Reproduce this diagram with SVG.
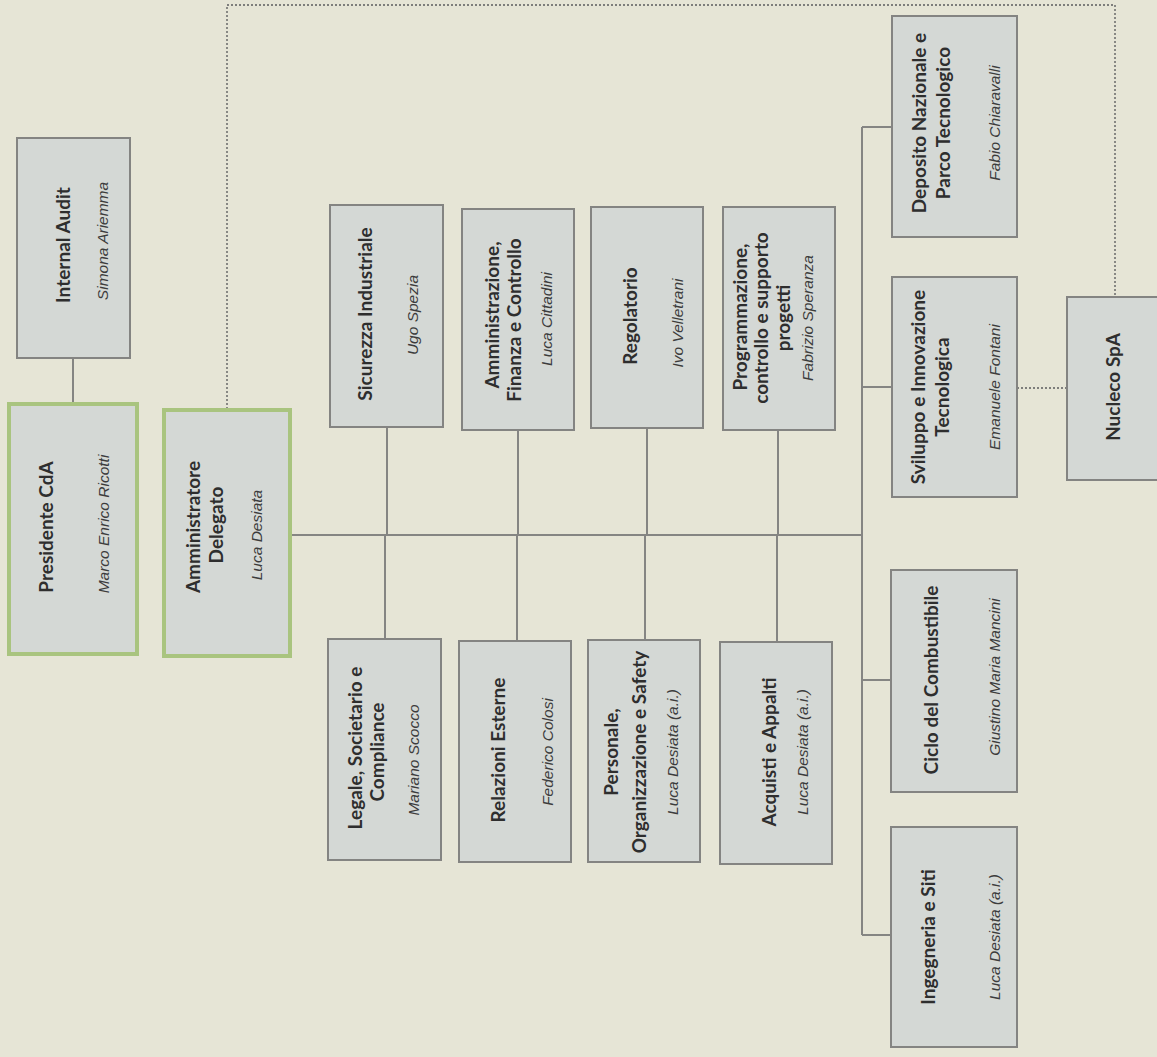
<svg xmlns="http://www.w3.org/2000/svg" width="1157" height="1057" viewBox="0 0 1157 1057">
<style>
.box{fill:#d4d8d5;stroke:#848482;stroke-width:2}
.boxg{fill:#d4d8d5;stroke:#a9c47f;stroke-width:4}
.t{font-family:Lato,"Liberation Sans",sans-serif;font-weight:bold;font-size:19px;fill:#2e2e2e;text-anchor:middle}
.n{font-family:"Liberation Sans",Arial,sans-serif;font-style:italic;font-size:15.5px;fill:#3c3c3c;text-anchor:middle}
.c{stroke:#858583;stroke-width:2;fill:none}
.d{stroke:#7e7e7c;stroke-width:1.8;stroke-dasharray:2 2;fill:none}
</style>
<rect width="1157" height="1057" fill="#e6e5d6"/>
<g id="connectors">
<line class="c" x1="73" y1="358" x2="73" y2="403"/>
<line class="c" x1="290" y1="535" x2="862" y2="535"/>
<line class="c" x1="862" y1="127" x2="862" y2="935"/>
<line class="c" x1="862" y1="127" x2="892" y2="127"/>
<line class="c" x1="862" y1="387" x2="892" y2="387"/>
<line class="c" x1="862" y1="680" x2="891" y2="680"/>
<line class="c" x1="862" y1="935" x2="891" y2="935"/>
<line class="c" x1="387" y1="427" x2="387" y2="535"/>
<line class="c" x1="518" y1="430" x2="518" y2="535"/>
<line class="c" x1="647" y1="428" x2="647" y2="535"/>
<line class="c" x1="778" y1="430" x2="778" y2="535"/>
<line class="c" x1="385" y1="535" x2="385" y2="639"/>
<line class="c" x1="517" y1="535" x2="517" y2="641"/>
<line class="c" x1="645" y1="535" x2="645" y2="640"/>
<line class="c" x1="777" y1="535" x2="777" y2="642"/>
<path class="d" d="M227,409 V5 H1115 V297"/>
<line class="d" x1="1017" y1="388" x2="1067" y2="388"/>
</g>
<g id="internal-audit">
<rect class="box" x="17" y="138" width="113" height="220"/>
<text class="t" x="70" y="245" transform="rotate(-90 70 245)">Internal Audit</text>
<text class="n" x="108" y="241" transform="rotate(-90 108 241)">Simona Ariemma</text>
</g>
<g id="presidente">
<rect class="boxg" x="9" y="404" width="128" height="250"/>
<text class="t" x="53" y="527" transform="rotate(-90 53 527)">Presidente CdA</text>
<text class="n" x="109" y="524" transform="rotate(-90 109 524)">Marco Enrico Ricotti</text>
</g>
<g id="amministratore">
<rect class="boxg" x="164" y="410" width="126" height="246"/>
<text class="t" x="200" y="527" transform="rotate(-90 200 527)">Amministratore</text>
<text class="t" x="223" y="525" transform="rotate(-90 223 525)">Delegato</text>
<text class="n" x="262" y="535" transform="rotate(-90 262 535)">Luca Desiata</text>
</g>
<g id="sicurezza">
<rect class="box" x="330" y="205" width="113" height="222"/>
<text class="t" x="372" y="314" transform="rotate(-90 372 314)">Sicurezza Industriale</text>
<text class="n" x="418" y="315" transform="rotate(-90 418 315)">Ugo Spezia</text>
</g>
<g id="amministrazione">
<rect class="box" x="462" y="209" width="112" height="221"/>
<text class="t" x="499" y="315" transform="rotate(-90 499 315)">Amministrazione,</text>
<text class="t" x="521" y="320" transform="rotate(-90 521 320)">Finanza e Controllo</text>
<text class="n" x="552" y="319" transform="rotate(-90 552 319)">Luca Cittadini</text>
</g>
<g id="regolatorio">
<rect class="box" x="591" y="207" width="112" height="221"/>
<text class="t" x="637" y="316" transform="rotate(-90 637 316)">Regolatorio</text>
<text class="n" x="683" y="323" transform="rotate(-90 683 323)">Ivo Velletrani</text>
</g>
<g id="programmazione">
<rect class="box" x="723" y="207" width="112" height="223"/>
<text class="t" x="747" y="317" transform="rotate(-90 747 317)">Programmazione,</text>
<text class="t" x="768" y="318" transform="rotate(-90 768 318)">controllo e supporto</text>
<text class="t" x="790" y="318" transform="rotate(-90 790 318)">progetti</text>
<text class="n" x="813" y="318" transform="rotate(-90 813 318)">Fabrizio Speranza</text>
</g>
<g id="legale">
<rect class="box" x="328" y="639" width="113" height="221"/>
<text class="t" x="362" y="748" transform="rotate(-90 362 748)">Legale, Societario e</text>
<text class="t" x="384" y="752" transform="rotate(-90 384 752)">Compliance</text>
<text class="n" x="419" y="760" transform="rotate(-90 419 760)">Mariano Scocco</text>
</g>
<g id="relazioni">
<rect class="box" x="459" y="641" width="112" height="221"/>
<text class="t" x="505" y="750" transform="rotate(-90 505 750)">Relazioni Esterne</text>
<text class="n" x="553" y="752" transform="rotate(-90 553 752)">Federico Colosi</text>
</g>
<g id="personale">
<rect class="box" x="588" y="640" width="112" height="222"/>
<text class="t" x="618" y="752" transform="rotate(-90 618 752)">Personale,</text>
<text class="t" x="646" y="752" transform="rotate(-90 646 752)">Organizzazione e Safety</text>
<text class="n" x="678" y="752" transform="rotate(-90 678 752)">Luca Desiata (a.i.)</text>
</g>
<g id="acquisti">
<rect class="box" x="720" y="642" width="112" height="222"/>
<text class="t" x="776" y="752" transform="rotate(-90 776 752)">Acquisti e Appalti</text>
<text class="n" x="808" y="752" transform="rotate(-90 808 752)">Luca Desiata (a.i.)</text>
</g>
<g id="deposito">
<rect class="box" x="892" y="16" width="125" height="221"/>
<text class="t" x="926" y="123" transform="rotate(-90 926 123)">Deposito Nazionale e</text>
<text class="t" x="950" y="123" transform="rotate(-90 950 123)">Parco Tecnologico</text>
<text class="n" x="1000" y="123" transform="rotate(-90 1000 123)">Fabio Chiaravalli</text>
</g>
<g id="sviluppo">
<rect class="box" x="892" y="277" width="125" height="220"/>
<text class="t" x="925" y="387" transform="rotate(-90 925 387)">Sviluppo e Innovazione</text>
<text class="t" x="949" y="387" transform="rotate(-90 949 387)">Tecnologica</text>
<text class="n" x="1000" y="387" transform="rotate(-90 1000 387)">Emanuele Fontani</text>
</g>
<g id="nucleco">
<rect class="box" x="1067" y="297" width="120" height="183"/>
<text class="t" x="1120" y="387" transform="rotate(-90 1120 387)">Nucleco SpA</text>
</g>
<g id="ciclo">
<rect class="box" x="891" y="570" width="126" height="222"/>
<text class="t" x="938" y="680" transform="rotate(-90 938 680)">Ciclo del Combustibile</text>
<text class="n" x="1000" y="677" transform="rotate(-90 1000 677)">Giustino Maria Mancini</text>
</g>
<g id="ingegneria">
<rect class="box" x="891" y="827" width="126" height="220"/>
<text class="t" x="935" y="937" transform="rotate(-90 935 937)">Ingegneria e Siti</text>
<text class="n" x="1000" y="937" transform="rotate(-90 1000 937)">Luca Desiata (a.i.)</text>
</g>
</svg>
